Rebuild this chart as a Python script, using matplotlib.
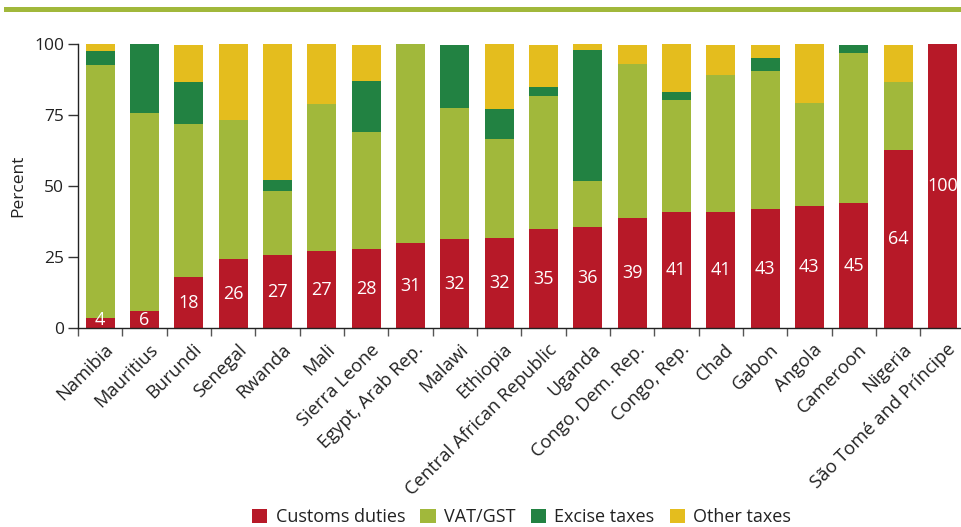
import matplotlib
matplotlib.use("Agg")
import matplotlib.pyplot as plt
import matplotlib.transforms as mtransforms
import numpy as np
from matplotlib.patches import Rectangle
from matplotlib.ticker import FixedLocator

plt.rcParams['font.family'] = ['Open Sans', 'DejaVu Sans']

countries = ["Namibia", "Mauritius", "Burundi", "Senegal", "Rwanda", "Mali",
             "Sierra Leone", "Egypt, Arab Rep.", "Malawi", "Ethiopia",
             "Central African Republic", "Uganda", "Congo, Dem. Rep.",
             "Congo, Rep.", "Chad", "Gabon", "Angola", "Cameroon", "Nigeria",
             "São Tomé and Príncipe"]
customs = [3.5, 5.9, 17.9, 24.2, 25.6, 27.0, 27.7, 29.8, 31.3, 31.6,
           34.8, 35.5, 38.7, 40.8, 40.8, 41.8, 42.9, 43.9, 62.6, 100.0]
customs_labels = ["4", "6", "18", "26", "27", "27", "28", "31", "32", "32",
                  "35", "36", "39", "41", "41", "43", "43", "45", "64", "100"]
vat = [89.2, 69.8, 53.9, 49.0, 22.6, 51.8, 41.3, 70.2, 46.1, 34.9,
       46.9, 16.2, 54.2, 39.5, 48.3, 48.7, 36.3, 52.9, 24.0, 0.0]
excise = [4.8, 24.3, 14.8, 0.0, 3.9, 0.0, 18.0, 0.0, 22.2, 10.6,
          3.1, 46.2, 0.0, 2.8, 0.0, 4.6, 0.0, 2.8, 0.0, 0.0]
other = [2.5, 0.0, 13.0, 26.8, 47.9, 21.2, 12.6, 0.0, 0.0, 22.9,
         14.8, 2.1, 6.7, 16.9, 10.5, 4.5, 20.8, 0.0, 13.0, 0.0]
series_names = ["Customs duties", "VAT/GST", "Excise taxes", "Other taxes"]
colors = ["#b71928", "#a1b83b", "#228242", "#e4bd1e"]

W, H = 961, 527
fig = plt.figure(figsize=(W / 100, H / 100), dpi=100)
ax = fig.add_axes([78 / W, 1 - 328 / H, (961 - 78) / W, (328 - 44) / H])

x = np.arange(len(countries))
bw = 0.655
bottom = np.zeros(len(countries))
for vals, name, col in zip([customs, vat, excise, other], series_names, colors):
    ax.bar(x, vals, bw, bottom=bottom, color=col, label=name, linewidth=0)
    bottom += np.array(vals)

for xi, v, lab in zip(x, customs, customs_labels):
    ax.text(xi, max(v / 2, 2.8), lab, ha='center', va='center', color='white',
            fontsize=13)

ax.set_xlim(-0.5, 19.42)
ax.set_ylim(0, 100)
ax.set_yticks([0, 25, 50, 75, 100])
ax.tick_params(axis='y', labelsize=12.5, length=7, width=1, color='#333333',
               labelcolor='#222222', pad=3)
ax.set_ylabel("Percent", fontsize=12.5, color='#222222', labelpad=6)

ax.set_xticks(x)
ax.set_xticklabels(countries, rotation=45, ha='right', rotation_mode='anchor',
                   fontsize=13.2, color='#222222')
ax.tick_params(axis='x', which='major', length=0, pad=9)
offset = mtransforms.ScaledTranslation(4 / 100, 0, fig.dpi_scale_trans)
for lbl in ax.get_xticklabels():
    lbl.set_transform(lbl.get_transform() + offset)
ax.xaxis.set_minor_locator(FixedLocator(np.arange(-0.5, 19.0, 1.0)))
ax.tick_params(axis='x', which='minor', length=6, width=1, color='#555555')

for s in ['top', 'right']:
    ax.spines[s].set_visible(False)
for s in ['left', 'bottom']:
    ax.spines[s].set_color('#222222')
    ax.spines[s].set_linewidth(1)

fig.add_artist(Rectangle((4 / W, 1 - 12 / H), (961 - 4) / W, 5 / H,
                         transform=fig.transFigure, color='#a1b83b', lw=0))

handles, labels = ax.get_legend_handles_labels()
fig.legend(handles, labels, ncol=4, loc='center',
           bbox_to_anchor=(521.5 / W, 9.5 / H), frameon=False, fontsize=13,
           handlelength=0.85, handleheight=0.85, handletextpad=0.45,
           columnspacing=0.85, labelcolor='#222222', borderpad=0)

fig.savefig("out.png", dpi=100)
